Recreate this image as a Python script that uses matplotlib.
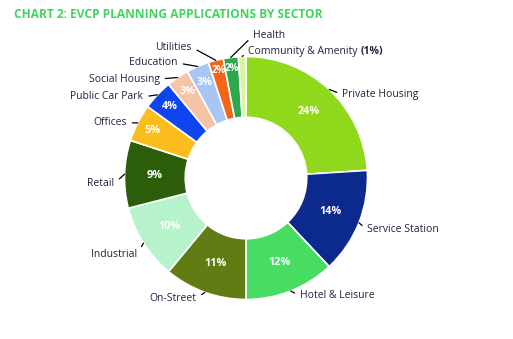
import numpy as np
from matplotlib import pyplot as plt

plt.rcParams['font.family'] = ['Open Sans', 'DejaVu Sans']

# sectors, clockwise from the top
sectors = ['Private Housing', 'Service Station', 'Hotel & Leisure', 'On-Street',
           'Industrial', 'Retail', 'Offices', 'Public Car Park', 'Social Housing',
           'Education', 'Utilities', 'Health', 'Community & Amenity']
shares = [24, 14, 12, 11, 10, 9, 5, 4, 3, 3, 2, 2, 1]
colours = ['#8fd81c', '#0c2a8e', '#47dc62', '#607c12', '#b6f3ca', '#2c5e0a',
           '#fbbd1c', '#0e45ef', '#f7c3a6', '#a8c6f4', '#f2651a', '#2ea84a', '#d6f59e']

# where each outside label sits relative to its wedge edge (pixels)
label_offsets = [(13, -5), (8, -7), (9, -5), (-8, -6), (-6, -11), (-10, -9),
                 (-11, 0), (-14, -2), (-18, -1.5), (-20, 3.5), (-24, 13), (22, 21.5),
                 (6, 5.5)]

W, H = 513, 339
cx, cy, R = 246, H - 178, 121.5
navy = '#1c2541'

fig = plt.figure(figsize=(W / 100, H / 100), dpi=100)
ax = fig.add_axes([0, 0, 1, 1])

wedges, _ = ax.pie(shares, colors=colours, startangle=90, counterclock=False,
                   radius=R, center=(cx, cy),
                   wedgeprops=dict(width=R * 0.5, edgecolor='white', linewidth=1.2))
ax.set_xlim(0, W)
ax.set_ylim(0, H)
ax.set_aspect('auto')
ax.axis('off')

for w, name, v, (dx, dy) in zip(wedges, sectors, shares, label_offsets):
    ang = np.deg2rad((w.theta1 + w.theta2) / 2)
    # percent inside the ring (pushed outward for the thin wedges)
    if v >= 9:
        r_in, fs = R * 0.75, 7.8
    elif v >= 3:
        r_in, fs = R * 0.86, 7.8
    else:
        r_in, fs = R * 0.91, 7.0
    if v > 1:
        ax.text(cx + r_in * np.cos(ang), cy + r_in * np.sin(ang), f'{v}%',
                ha='center', va='center', color='white', fontsize=fs, fontweight='bold')
    # name outside with a short leader
    ha = 'left' if dx > 0 else 'right'
    xy = (cx + R * np.cos(ang), cy + R * np.sin(ang))
    label = ax.annotate(name, xy=xy, xytext=(dx, dy), textcoords='offset pixels',
                        ha=ha, va='center', fontsize=7.5, color=navy,
                        arrowprops=dict(arrowstyle='-', color='black', lw=0.9,
                                        relpos=(0 if ha == 'left' else 1, 0.5),
                                        shrinkA=2, shrinkB=0))

# the 1% wedge gets its value next to the name
fig.canvas.draw()
bb = label.get_window_extent()
ax.text(bb.x1 + 3, (bb.y0 + bb.y1) / 2, '(1%)', ha='left', va='center',
        fontsize=7.5, fontweight='bold', color=navy)

fig.text(14 / W, 1 - 15 / H, 'CHART 2: EVCP PLANNING APPLICATIONS BY SECTOR',
         ha='left', va='center', fontsize=8.6, fontweight='bold', color='#3dd65a')

fig.savefig('out.png', dpi=100)
